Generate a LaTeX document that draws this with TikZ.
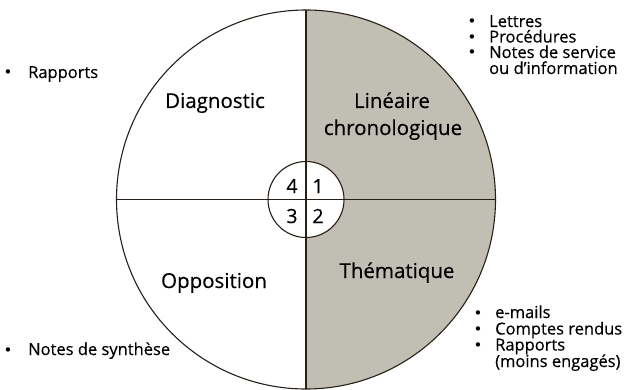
\documentclass[tikz,border=0pt]{standalone}
\usepackage{fontspec}
\setmainfont{Open Sans}[FakeBold=0.4]
\newfontfamily\bulfont{DejaVu Sans}
\definecolor{quadfill}{RGB}{193,191,180}
\definecolor{ink}{RGB}{40,32,24}
\begin{document}
\begin{tikzpicture}[x=1pt,y=1pt,
  big/.style={font=\fontsize{20.5}{26}\selectfont, align=center, inner sep=0pt},
  num/.style={font=\fontsize{19.5}{20}\selectfont, anchor=base, inner sep=0pt},
  item/.style={font=\fontsize{16.5}{15.5}\selectfont, anchor=base west, inner sep=0pt, align=left},
  bul/.style={font=\bulfont\fontsize{15}{15}\selectfont, anchor=base, inner sep=0pt},
  line/.style={draw=ink, line width=1.1pt}]
\useasboundingbox (0,0) rectangle (626,389);
\coordinate (C) at (306,189.5);
\coordinate (T) at (306,379);
\coordinate (B) at (306,0);
\coordinate (L) at (116.5,189.5);
\coordinate (R) at (495.5,189.5);
\fill[fill=quadfill] (T) arc[start angle=90, end angle=-90, radius=189.5] -- cycle;
\fill[white] (C) circle[radius=38];
\draw[line] (C) circle[radius=189.5];
\draw[line] (T) -- (B);
\draw[line] (L) -- (R);
\draw[line] (C) circle[radius=38];
% quadrant labels
\node[big, anchor=base] (diag) at (215,281) {Diagnostic};
\node[big, anchor=base] (lin) at (392,281) {Linéaire};
\node[big, anchor=base] (chrono) at (393,254) {chronologique};
\node[big, anchor=base] (opp) at (214,101) {Opposition};
\node[big, anchor=base] (them) at (397,111) {Thématique};
% numbers
\node[num] (n4) at (292,196) {4};
\node[num] (n1) at (318,196) {1};
\node[num] (n3) at (292,166) {3};
\node[num] (n2) at (318,166) {2};
% top right list
\node[bul] (b1) at (472,362) {•};
\node[item] (t1) at (489,362) {Lettres};
\node[bul] (b2) at (472,346.5) {•};
\node[item] (t2) at (489,346.5) {Procédures};
\node[bul] (b3) at (472,331) {•};
\node[item] (t3) at (489,331) {Notes de service};
\node[item] (t4) at (489,315) {ou d’information};
% bottom right list
\node[bul] (b4) at (478,71) {•};
\node[item] (t5) at (495,71) {e-mails};
\node[bul] (b5) at (478,54.5) {•};
\node[item] (t6) at (495,54.5) {Comptes rendus};
\node[bul] (b6) at (478,38.5) {•};
\node[item] (t7) at (495,38.5) {Rapports};
\node[item] (t8) at (495,22) {(moins engagés)};
% left items
\node[bul] (b7) at (8,311) {•};
\node[item] (t9) at (28,311) {Rapports};
\node[bul] (b8) at (8,34) {•};
\node[item] (t10) at (28,34) {Notes de synthèse};
\end{tikzpicture}
\end{document}
